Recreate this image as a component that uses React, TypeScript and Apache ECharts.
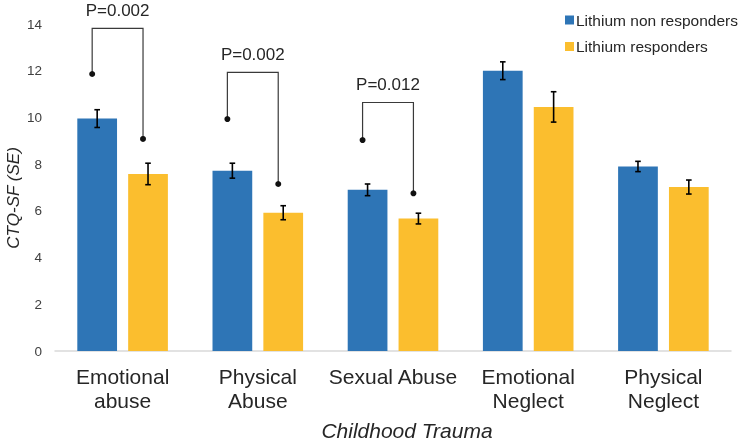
import React, { useEffect, useRef } from "react";
import * as echarts from "echarts";

const categories = ["Emotional\nabuse", "Physical\nAbuse", "Sexual Abuse", "Emotional\nNeglect", "Physical\nNeglect"];
const seriesNames = ["Lithium non responders", "Lithium responders"];
const nonResponders = [9.95, 7.72, 6.9, 12.0, 7.9];
const nonRespondersSE = [0.38, 0.32, 0.25, 0.38, 0.22];
const responders = [7.58, 5.92, 5.67, 10.45, 7.02];
const respondersSE = [0.46, 0.3, 0.23, 0.65, 0.3];
// significance brackets: category index, dot above non responders, dot above responders, bracket top, label
const bracketCats = [0, 1, 2];
const bracketBlueDot = [11.86, 9.93, 9.03];
const bracketYellowDot = [9.08, 7.15, 6.75];
const bracketTop = [13.81, 11.93, 10.64];
const bracketLabels = ["P=0.002", "P=0.002", "P=0.012"];
const yTicks = { min: 0, max: 14, interval: 2 };

const BLUE = "#2E75B6";
const YELLOW = "#FBBE2E";
const FONT = "'Liberation Sans', Arial, sans-serif";
const CAT_GAP = 0.33;
const BAR_GAP = 0.28;

function barOffset(bandWidth: number, idx: number) {
  const barW = (bandWidth * (1 - CAT_GAP)) / (2 + BAR_GAP);
  const off = (barW * (1 + BAR_GAP)) / 2;
  return idx === 0 ? -off : off;
}

function errorSeries(idx: number, vals: number[], se: number[]) {
  return {
    type: "custom",
    z: 5,
    silent: true,
    data: vals.map((v, i) => [i, v - se[i], v + se[i]]),
    renderItem: (params: any, api: any) => {
      const band = api.size([1, 0])[0];
      const c = api.coord([api.value(0), api.value(1)]);
      const t = api.coord([api.value(0), api.value(2)]);
      const x = c[0] + barOffset(band, idx);
      const cap = 2.8;
      const style = { stroke: "#000", lineWidth: 1.6 };
      return {
        type: "group",
        children: [
          { type: "line", shape: { x1: x, y1: c[1], x2: x, y2: t[1] }, style },
          { type: "line", shape: { x1: x - cap, y1: c[1], x2: x + cap, y2: c[1] }, style },
          { type: "line", shape: { x1: x - cap, y1: t[1], x2: x + cap, y2: t[1] }, style },
        ],
      };
    },
  };
}

export default function App() {
  const ref = useRef<HTMLDivElement>(null);
  useEffect(() => {
    if (!ref.current) return;
    const chart = echarts.init(ref.current, undefined, { renderer: "svg" });
    chart.setOption({
      animation: false,
      textStyle: { fontFamily: FONT },
      grid: { left: 55, right: 13, top: 24, bottom: 91, containLabel: false },
      legend: {
        orient: "vertical",
        left: 560,
        top: 7,
        itemWidth: 9,
        itemHeight: 9,
        itemGap: 10.5,
        icon: "rect",
        data: seriesNames,
        textStyle: { fontSize: 15.5, color: "#262626", fontFamily: FONT, padding: [0, 0, 0, -3] },
      },
      xAxis: {
        type: "category",
        data: categories,
        axisLine: { lineStyle: { color: "#d9d9d9", width: 1.5 } },
        axisTick: { show: false },
        axisLabel: { interval: 0, fontSize: 21, lineHeight: 23.5, margin: 14, color: "#262626", fontFamily: FONT },
      },
      yAxis: {
        type: "value",
        min: yTicks.min,
        max: yTicks.max,
        interval: yTicks.interval,
        splitLine: { show: false },
        axisLine: { show: false },
        axisTick: { show: false },
        axisLabel: { fontSize: 13.5, color: "#404040", margin: 13, fontFamily: FONT },
      },
      graphic: [
        {
          type: "text",
          x: 407,
          y: 430,
          style: {
            text: "Childhood Trauma",
            fontSize: 21,
            fontStyle: "italic",
            fontFamily: FONT,
            fill: "#262626",
            textAlign: "center",
            textVerticalAlign: "middle",
          },
        },
        {
          type: "text",
          x: 13.5,
          y: 198,
          rotation: Math.PI / 2,
          style: {
            text: "CTQ-SF (SE)",
            fontSize: 17,
            fontStyle: "italic",
            fontFamily: FONT,
            fill: "#262626",
            textAlign: "center",
            textVerticalAlign: "middle",
          },
        },
      ],
      series: [
        {
          name: seriesNames[0],
          type: "bar",
          data: nonResponders,
          itemStyle: { color: BLUE },
          barCategoryGap: CAT_GAP * 100 + "%",
          barGap: BAR_GAP * 100 + "%",
        },
        {
          name: seriesNames[1],
          type: "bar",
          data: responders,
          itemStyle: { color: YELLOW },
          barCategoryGap: CAT_GAP * 100 + "%",
          barGap: BAR_GAP * 100 + "%",
        },
        errorSeries(0, nonResponders, nonRespondersSE),
        errorSeries(1, responders, respondersSE),
        {
          type: "custom",
          z: 6,
          silent: true,
          data: bracketCats.map((c, i) => [c, bracketBlueDot[i], bracketYellowDot[i], bracketTop[i], i]),
          renderItem: (params: any, api: any) => {
            const band = api.size([1, 0])[0];
            const cat = api.value(0);
            const shift = -5;
            const b = api.coord([cat, api.value(1)]);
            const yl = api.coord([cat, api.value(2)]);
            const tp = api.coord([cat, api.value(3)]);
            const xl = b[0] + barOffset(band, 0) + shift;
            const xr = b[0] + barOffset(band, 1) + shift;
            const label = bracketLabels[api.value(4)];
            const lineStyle = { stroke: "#3a3a3a", lineWidth: 1.2, fill: null };
            return {
              type: "group",
              children: [
                {
                  type: "polyline",
                  shape: { points: [[xl, b[1]], [xl, tp[1]], [xr, tp[1]], [xr, yl[1]]] },
                  style: lineStyle,
                },
                { type: "circle", shape: { cx: xl, cy: b[1], r: 3 }, style: { fill: "#111" } },
                { type: "circle", shape: { cx: xr, cy: yl[1], r: 3 }, style: { fill: "#111" } },
                {
                  type: "text",
                  x: (xl + xr) / 2,
                  y: tp[1] - 18,
                  style: {
                    text: label,
                    fontSize: 17,
                    fontFamily: FONT,
                    fill: "#262626",
                    textAlign: "center",
                    textVerticalAlign: "middle",
                  },
                },
              ],
            };
          },
        },
      ],
    });
    return () => chart.dispose();
  }, []);
  return <div ref={ref} style={{ position: "fixed", left: 0, top: 0, width: 744, height: 442 }} />;
}
